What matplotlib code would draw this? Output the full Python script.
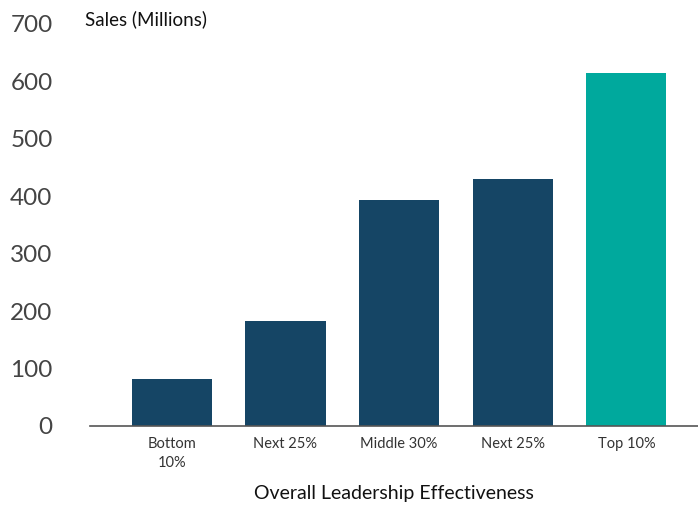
import numpy as np
import matplotlib.pyplot as plt

plt.rcParams['font.family'] = ['Lato', 'DejaVu Sans']

categories = ["Bottom\n10%", "Next 25%", "Middle 30%", "Next 25%", "Top 10%"]
sales = [82, 183, 393, 430, 615]
colors = ["#154565", "#154565", "#154565", "#154565", "#00a99d"]
yticks = [0, 100, 200, 300, 400, 500, 600, 700]

fig = plt.figure(figsize=(6.98, 5.07), dpi=100)
ax = fig.add_axes([0.129, 0.160, 0.871, 0.793])

x = np.arange(len(categories))
ax.bar(x, sales, width=0.705, color=colors, zorder=2)

ax.set_xlim(-0.72, 4.63)
ax.set_ylim(0, 700)
ax.set_yticks(yticks)
ax.set_yticklabels([str(v) for v in yticks], fontsize=17.5, color="#444444")
ax.tick_params(axis='y', length=0, pad=27)
ax.set_xticks(x)
ax.set_xticklabels(categories, fontsize=10.5, color="#333333", linespacing=1.45)
ax.tick_params(axis='x', length=0, pad=8)

for s in ["top", "right", "left"]:
    ax.spines[s].set_visible(False)
ax.spines["bottom"].set_color("#555555")
ax.spines["bottom"].set_linewidth(1.2)

ax.set_xlabel("Overall Leadership Effectiveness", fontsize=14, color="#111111", labelpad=11)
fig.text(0.122, 0.962, "Sales (Millions)", fontsize=13.5, color="#111111", va="center")

fig.savefig("out.png", dpi=100)
